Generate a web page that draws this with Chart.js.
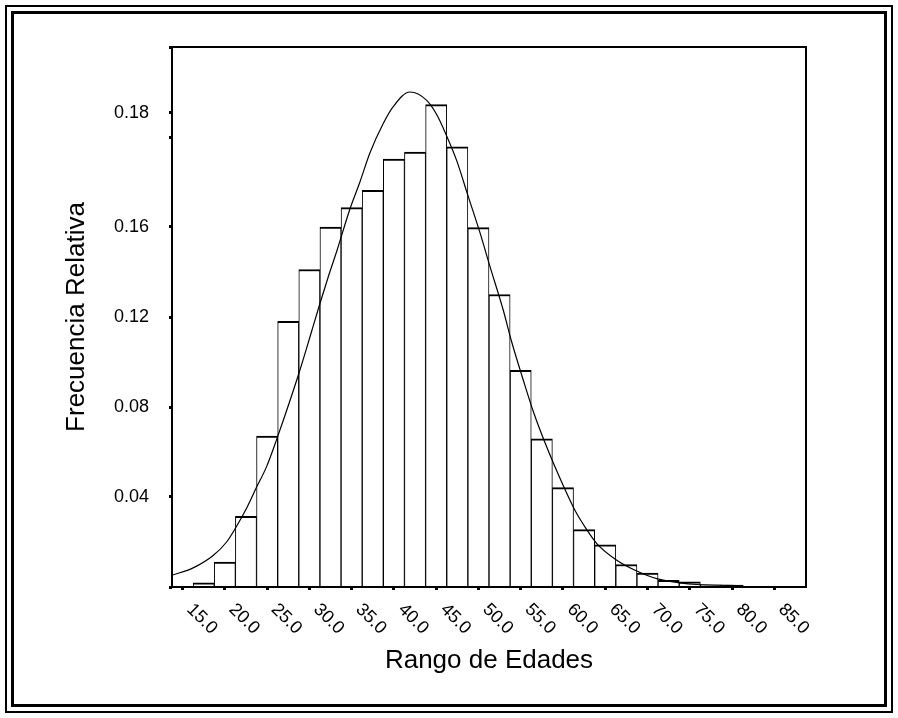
<!DOCTYPE html>
<html>
<head>
<meta charset="utf-8">
<script src="https://cdn.jsdelivr.net/npm/chart.js@4.4.1/dist/chart.umd.min.js"></script>
<style>
html,body{margin:0;padding:0;background:#fff;}
#wrap{width:898px;height:718px;position:relative;}
</style>
</head>
<body>
<div id="wrap"><canvas id="c" width="898" height="718"></canvas></div>
<script>
// Histogram bins (centre of each 2.5-year class) and relative frequencies
const binCenters = [17.5,20,22.5,25,27.5,30,32.5,35,37.5,40,42.5,45,47.5,50,52.5,55,57.5,60,62.5,65,67.5,70,72.5,75,77.5,80];
const relFreq = [0.0018,0.0111,0.0314,0.0671,0.1181,0.1411,0.1600,0.1686,0.1763,0.1902,0.1933,0.2144,0.1956,0.1597,0.1300,0.0963,0.0658,0.0442,0.0255,0.0187,0.0100,0.0062,0.0030,0.0023,0.0010,0.0008];

// Normal curve
const curveX = [13.75,16.25,18.62,20.21,21.39,22.57,23.76,24.94,26.12,28.68,30.06,31.25,32.23,33.22,34.8,35.98,37.17,38.74,39.92,41.9,43.88,45.06,46.24,47.43,48.8,50.18,51.37,52.94,53.93,55.31,56.49,58.08,60.04,61.43,62.81,64.0,66.36,68.73,71.09,73.88,75.83,81.34];
const curveY = [0.0052,0.0085,0.0140,0.0200,0.0270,0.0350,0.0444,0.0535,0.0655,0.0940,0.1110,0.1260,0.1378,0.1490,0.1680,0.1800,0.1930,0.2060,0.2135,0.2200,0.2163,0.2100,0.2005,0.1895,0.1735,0.1575,0.1424,0.1230,0.1090,0.0919,0.0780,0.0622,0.0450,0.0340,0.0255,0.0193,0.0119,0.0071,0.0037,0.0018,0.0011,0.0006];

// Axis ticks
const xTickValues = [15,20,25,30,35,40,45,50,55,60,65,70,75,80,85];
const xTickLabels = ['15.0','20.0','25.0','30.0','35.0','40.0','45.0','50.0','55.0','60.0','65.0','70.0','75.0','80.0','85.0'];
const yTickValues = [0,0.04,0.08,0.12,0.16,0.20,0.2107,0.24];
const yTickLabels = ['','0.04','0.08','0.12','0.16','','0.18',''];

const xTitle = 'Rango de Edades';
const yTitle = 'Frecuencia Relativa';

const FONT = '"Liberation Sans", Arial, sans-serif';

const framePlugin = {
  id: 'frame',
  beforeDraw(chart) {
    const ctx = chart.ctx;
    ctx.save();
    ctx.fillStyle = '#fff';
    ctx.fillRect(0, 0, chart.width, chart.height);
    ctx.strokeStyle = '#000';
    ctx.lineWidth = 2;
    ctx.strokeRect(6, 6, 886, 706);
    ctx.lineWidth = 3;
    ctx.strokeRect(12.5, 12.5, 873, 693);
    ctx.restore();
  },
  afterDraw(chart) {
    const a = chart.chartArea;
    const ctx = chart.ctx;
    ctx.save();
    ctx.strokeStyle = '#000';
    ctx.lineWidth = 2;
    ctx.strokeRect(a.left, a.top, a.right - a.left, a.bottom - a.top);
    ctx.restore();
  }
};

new Chart(document.getElementById('c'), {
  type: 'bar',
  data: {
    datasets: [
      {
        type: 'line',
        data: curveX.map((x, i) => ({x: x, y: curveY[i]})),
        borderColor: '#000',
        borderWidth: 1.2,
        pointRadius: 0,
        fill: false,
        cubicInterpolationMode: 'monotone',
        order: 0
      },
      {
        type: 'bar',
        data: binCenters.map((x, i) => ({x: x, y: relFreq[i]})),
        backgroundColor: '#fff',
        borderColor: '#000',
        borderWidth: {top: 2, left: 1, right: 1, bottom: 0},
        borderSkipped: 'start',
        barPercentage: 1,
        categoryPercentage: 1,
        order: 1
      }
    ]
  },
  options: {
    responsive: false,
    animation: false,
    layout: {padding: {left: 0, right: 92, top: 47, bottom: 0}},
    plugins: {legend: {display: false}, tooltip: {enabled: false}},
    scales: {
      x: {
        type: 'linear',
        min: 13.75,
        max: 88.75,
        offset: false,
        border: {display: false},
        grid: {offset: false, drawOnChartArea: false, drawTicks: true, tickLength: 3, tickWidth: 3, tickColor: '#000'},
        afterBuildTicks: (s) => { s.ticks = xTickValues.map(v => ({value: v})); },
        beforeUpdate: (s) => { s._getXAxisLabelAlignment = () => 'left'; },
        afterFit: (s) => { s.height = 131; s.paddingLeft = 0; s.paddingRight = 0; },
        ticks: {
          autoSkip: false,
          minRotation: -45,
          maxRotation: -45,
          padding: 9,
          labelOffset: 7,
          color: '#000',
          font: {family: FONT, size: 18},
          callback: (v, i) => xTickLabels[i]
        },
        title: {display: true, text: xTitle, color: '#000', font: {family: FONT, size: 26}, padding: {top: 0, bottom: 42}}
      },
      y: {
        type: 'linear',
        min: 0,
        max: 0.24,
        border: {display: false},
        grid: {drawOnChartArea: false, drawTicks: true, tickLength: 3, tickWidth: 3, tickColor: '#000'},
        afterBuildTicks: (s) => { s.ticks = yTickValues.map(v => ({value: v})); },
        afterFit: (s) => { s.width = 172; },
        ticks: {
          autoSkip: false,
          padding: 20,
          color: '#000',
          font: {family: FONT, size: 18},
          callback: (v, i) => yTickLabels[i]
        },
        title: {display: true, text: yTitle, color: '#000', font: {family: FONT, size: 26}, padding: {top: 61, bottom: 0}}
      }
    }
  },
  plugins: [framePlugin]
});
</script>
</body>
</html>
